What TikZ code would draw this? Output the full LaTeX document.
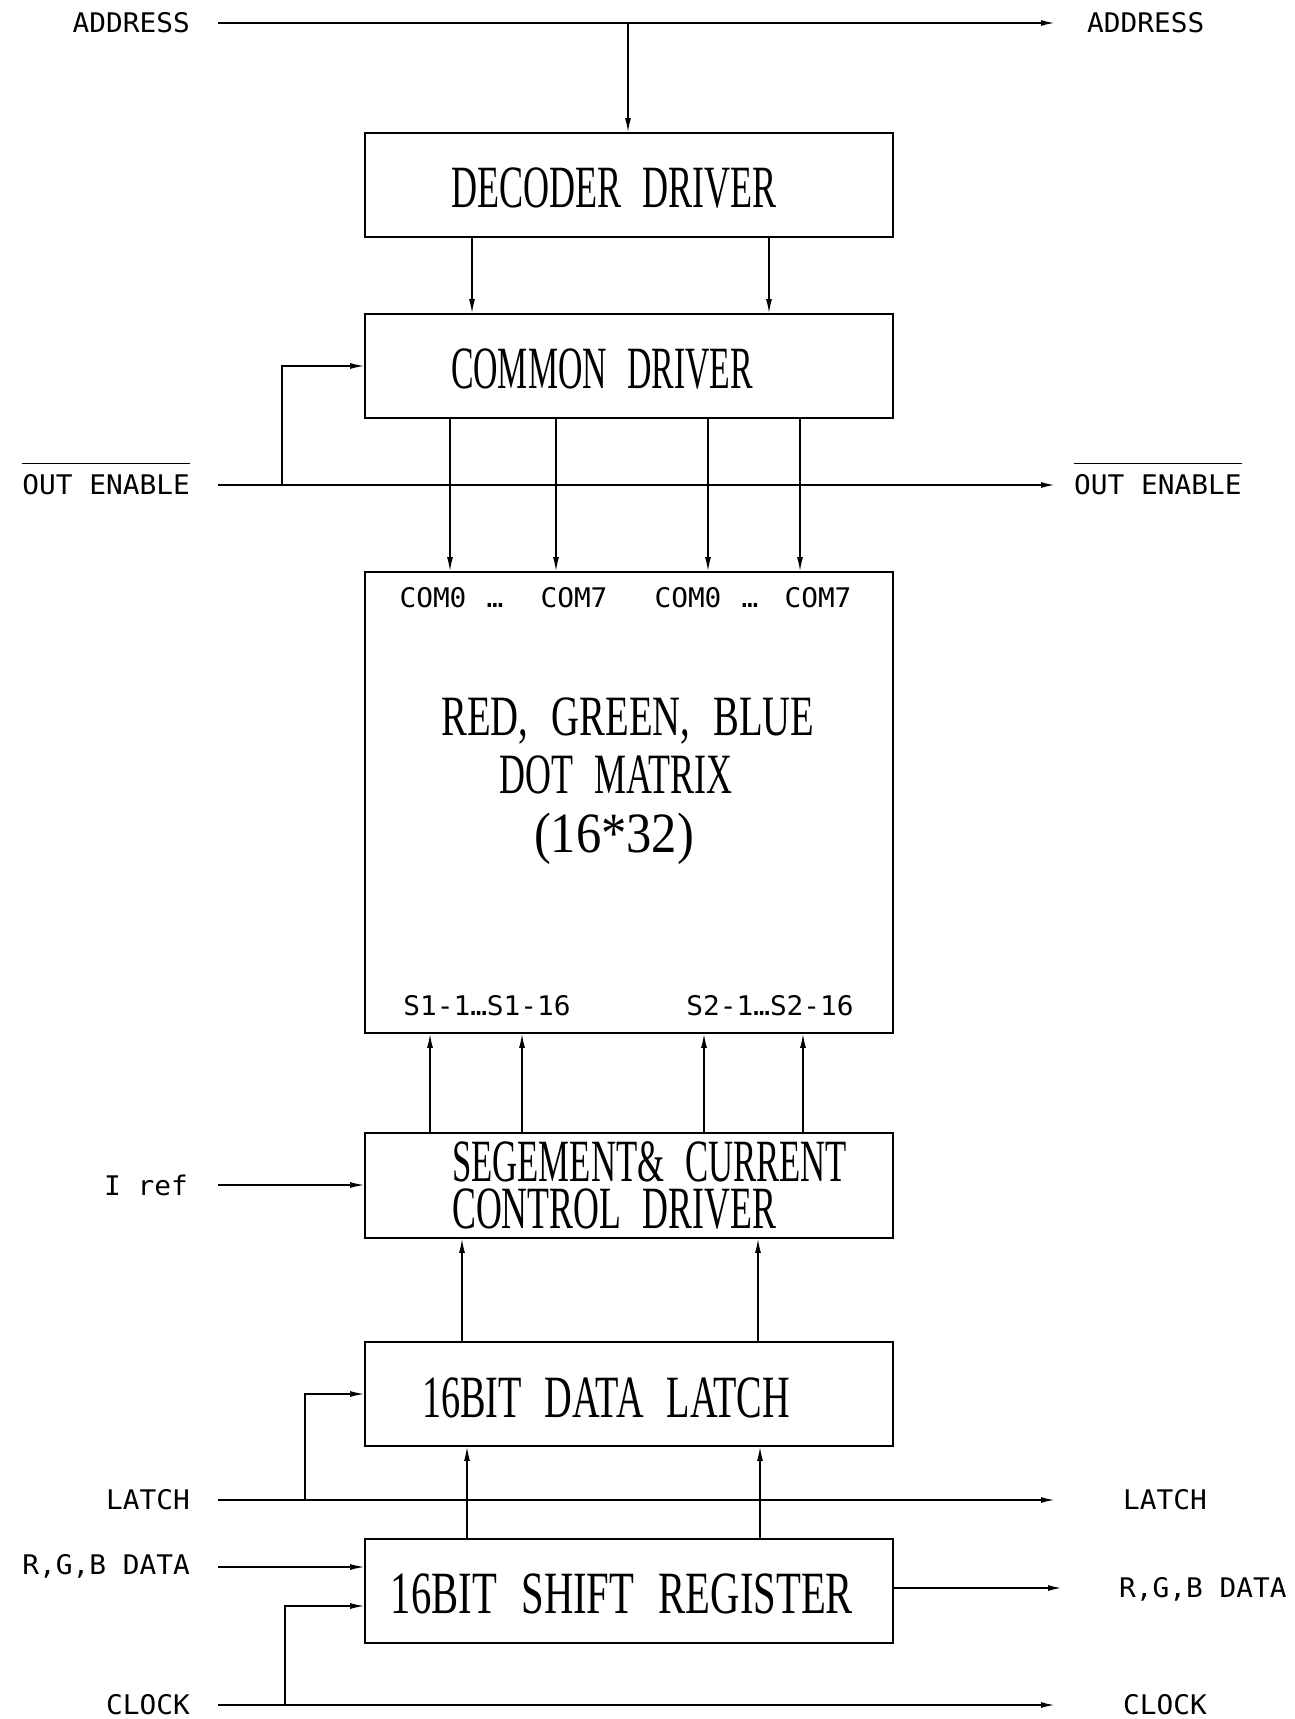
\documentclass[tikz,border=0pt]{standalone}
\usepackage{fontspec}
\usetikzlibrary{arrows.meta}
\newfontfamily\labfont[FakeStretch=1.03]{DejaVu Sans Mono}
\newfontfamily\bigserif{Liberation Serif}
\newcommand\bigtxt[3][60]{\resizebox{#2}{\height}{\bigserif\fontsize{#1}{#1}\selectfont\spaceskip=0.6em\relax #3}}
\begin{document}
\begin{tikzpicture}[x=1pt,y=-1pt,
  blk/.style={draw, line width=1.8pt, minimum width=528pt, inner sep=0pt},
  lab/.style={font=\labfont\fontsize{27}{27}\selectfont, inner sep=0pt},
  big/.style={inner sep=0pt},
  bus/.style={line width=1.8pt, -{Latex[length=14pt,width=6pt]}},
  sig/.style={line width=1.3pt, -{Latex[length=14pt,width=6pt]}},
  wire/.style={line width=1.3pt}]
\fill[white] (0,0) rectangle (1294,1719);
\useasboundingbox (0,0) rectangle (1294,1719);

% blocks
\node[blk, minimum height=104pt] (dec) at (629,185) {};
\node[blk, minimum height=104pt] (com) at (629,366) {};
\node[blk, minimum height=461pt] (mat) at (629,802.5) {};
\node[blk, minimum height=105pt] (seg) at (629,1185.5) {};
\node[blk, minimum height=104pt] (lat) at (629,1394) {};
\node[blk, minimum height=104pt] (sh)  at (629,1591) {};

% block texts
\node[big, anchor=base] (decT) at (614,207) {\bigtxt{326pt}{DECODER DRIVER}};
\node[big, anchor=base] (comT) at (602,388) {\bigtxt{302pt}{COMMON DRIVER}};
\node[big, anchor=base] (matT1) at (628,735) {\bigtxt[57]{373pt}{RED, GREEN, BLUE}};
\node[big, anchor=base] (matT2) at (616,793) {\bigtxt[57]{233pt}{DOT MATRIX}};
\node[big, anchor=base] (matT3) at (614,852) {\bigtxt[57]{160pt}{(16*32)}};
\node[big, anchor=base west, align=left, font=\fontsize{60}{47}\selectfont] (segT) at (452,1228)
  {\bigtxt{395pt}{SEGEMENT\& CURRENT}\\\bigtxt{324pt}{CONTROL DRIVER}};
\node[big, anchor=base] (latT) at (606,1417) {\bigtxt{368pt}{16BIT DATA LATCH}};
\node[big, anchor=base] (shT) at (622,1613) {\bigtxt{462pt}{16BIT SHIFT REGISTER}};

% pin labels in matrix
\node[lab, anchor=base] (c1) at (433,607) {COM0};
\node[lab, anchor=base] (d1) at (495,607) {…};
\node[lab, anchor=base] (c2) at (574,607) {COM7};
\node[lab, anchor=base] (c3) at (688,607) {COM0};
\node[lab, anchor=base] (d2) at (750,607) {…};
\node[lab, anchor=base] (c4) at (818,607) {COM7};
\node[lab, anchor=base] (s1) at (487,1015) {S1-1…S1-16};
\node[lab, anchor=base] (s2) at (770,1015) {S2-1…S2-16};

% signal labels
\node[lab, anchor=east] (addrL) at (190,23) {ADDRESS};
\node[lab, anchor=west] (addrR) at (1087,23) {ADDRESS};
\node[lab, anchor=east] (oeLt) at (190,485) {OUT ENABLE};
\node[lab, anchor=west] (oeRt) at (1074,485) {OUT ENABLE};
\draw[line width=1.3pt] ([yshift=11pt]oeLt.north west) -- ([yshift=11pt]oeLt.north east);
\draw[line width=1.3pt] ([yshift=11pt]oeRt.north west) -- ([yshift=11pt]oeRt.north east);
\node[lab, anchor=east] (irL) at (188,1185) {I ref};
\node[lab, anchor=east] (laLt) at (190,1500) {LATCH};
\node[lab, anchor=west] (laRt) at (1123,1500) {LATCH};
\node[lab, anchor=base east] (rgbLt) at (190,1574) {R,G,B DATA};
\node[lab, anchor=base west] (rgbRt) at (1119,1597) {R,G,B DATA};
\node[lab, anchor=east] (ckLt) at (190,1705) {CLOCK};
\node[lab, anchor=west] (ckRt) at (1123,1705) {CLOCK};

% coordinates of bus ends
\coordinate (aL) at (218,23);   \coordinate (aR) at (1055,23);   \coordinate (aT) at (628,23);
\coordinate (oeL) at (218,485); \coordinate (oeR) at (1055,485); \coordinate (oeB) at (282,485);
\coordinate (ir) at (218,1185);
\coordinate (laL) at (218,1500); \coordinate (laR) at (1055,1500); \coordinate (laB) at (305,1500);
\coordinate (rgbI) at (218,1567); \coordinate (rgbO) at (1062,1588);
\coordinate (ckL) at (218,1705); \coordinate (ckR) at (1055,1705); \coordinate (ckB) at (285,1705);

% connectors
\draw[bus] (aL) -- (aR);
\draw[sig] (aT) -- (aT |- dec.north);
\foreach \dx in {-157,140}
  \draw[sig] ([xshift=\dx pt]dec.south) -- ([xshift=\dx pt]com.north);
\draw[bus] (oeL) -- (oeR);
\draw[sig] (oeB) |- (com.west);
\foreach \dx in {-179,-73,79,171}
  \draw[sig] ([xshift=\dx pt]com.south) -- ([xshift=\dx pt]mat.north);
\foreach \dx in {-199,-107,75,174}
  \draw[sig] ([xshift=\dx pt]seg.north) -- ([xshift=\dx pt]mat.south);
\draw[sig] (ir) -- (ir -| seg.west);
\foreach \dx in {-167,129}
  \draw[sig] ([xshift=\dx pt]lat.north) -- ([xshift=\dx pt]seg.south);
\foreach \dx in {-162,131}
  \draw[sig] ([xshift=\dx pt]sh.north) -- ([xshift=\dx pt]lat.south);
\draw[bus] (laL) -- (laR);
\draw[sig] (laB) |- (lat.west);
\draw[sig] (rgbI) -- (rgbI -| sh.west);
\draw[bus] (rgbO -| sh.east) -- (rgbO);
\draw[bus] (ckL) -- (ckR);
\draw[sig] (ckB) |- ([yshift=-15pt]sh.west);
\end{tikzpicture}
\end{document}
